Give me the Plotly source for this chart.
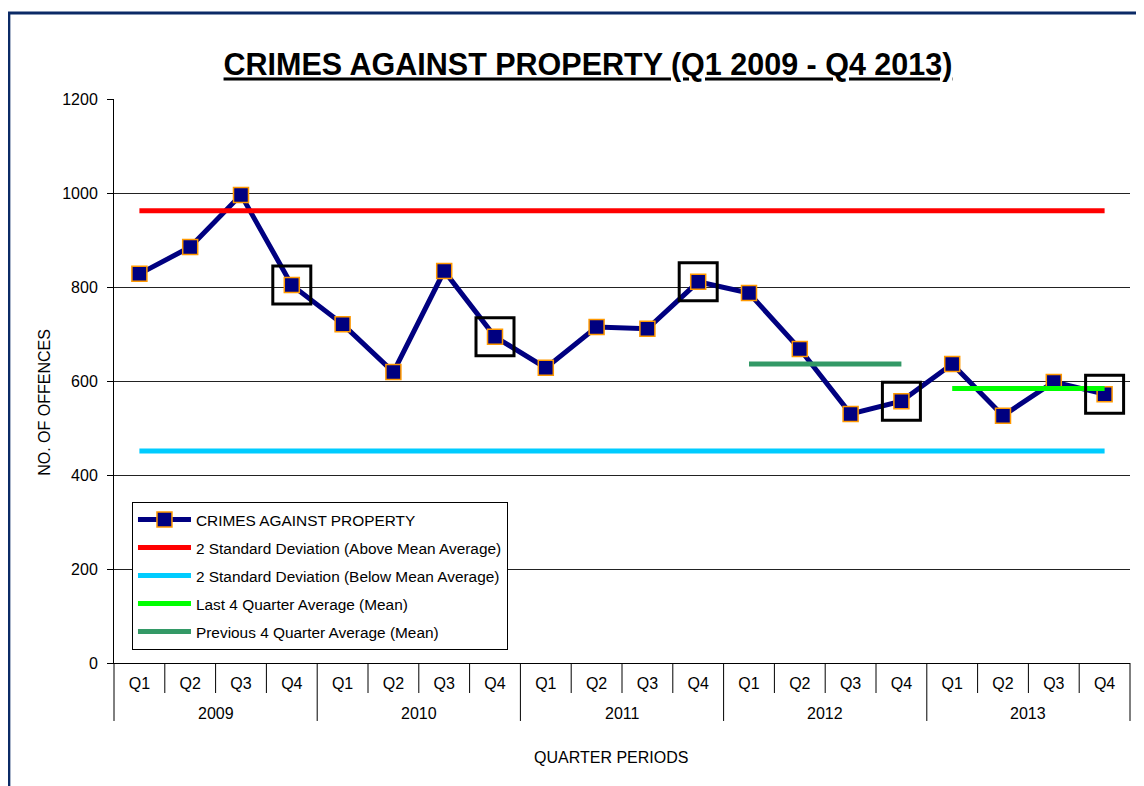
import plotly.graph_objects as go

# 분기별 재산범죄 건수 (Q1 2009 - Q4 2013)
years = ['2009', '2010', '2011', '2012', '2013']
quarters = ['Q1', 'Q2', 'Q3', 'Q4']

crimes = [828, 885, 996, 804,
          721, 619, 834, 694,
          628, 715, 711, 811,
          787, 668, 530, 557,
          636, 526, 598, 572]

upper_2sd = 962     # 2 표준편차 (평균 위)
lower_2sd = 451     # 2 표준편차 (평균 아래)
prev_4q_avg = 636   # 2012 평균
last_4q_avg = 584   # 2013 평균

# 카테고리: '2009 Q1' ... (축에는 Q1~Q4만 표시)
x_cat = [f'{y} {q}' for y in years for q in quarters]
x_qtr = [q for y in years for q in quarters]
n = len(x_cat)
nq = len(quarters)

FONT = 'Liberation Sans, Arial, sans-serif'

fig = go.Figure()

fig.add_trace(go.Scatter(
    x=x_cat, y=crimes,
    mode='lines+markers',
    name='CRIMES AGAINST PROPERTY',
    line=dict(color='#000080', width=5),
    marker=dict(symbol='square', size=15, color='#000080',
                line=dict(color='#FF9900', width=1.5)),
    legendgroup='a'
))

fig.add_trace(go.Scatter(
    x=x_cat, y=[upper_2sd] * n,
    mode='lines', name='2 Standard Deviation (Above Mean Average)',
    line=dict(color='#FF0000', width=5),
    legendgroup='b'
))

fig.add_trace(go.Scatter(
    x=x_cat, y=[lower_2sd] * n,
    mode='lines', name='2 Standard Deviation (Below Mean Average)',
    line=dict(color='#00CCFF', width=5),
    legendgroup='c'
))

# 마지막 4분기 (2013)
fig.add_trace(go.Scatter(
    x=[c for c in x_cat if c.startswith('2013')], y=[last_4q_avg] * nq,
    mode='lines', name='Last 4 Quarter Average (Mean)',
    line=dict(color='#00FF00', width=5),
    legendgroup='d'
))

# 이전 4분기 (2012)
fig.add_trace(go.Scatter(
    x=[c for c in x_cat if c.startswith('2012')], y=[prev_4q_avg] * nq,
    mode='lines', name='Previous 4 Quarter Average (Mean)',
    line=dict(color='#339966', width=5),
    legendgroup='e'
))

# Q4 강조 박스
q4_idx = [i for i, q in enumerate(x_qtr) if q == 'Q4']
fig.add_trace(go.Scatter(
    x=[x_cat[i] for i in q4_idx],
    y=[crimes[i] for i in q4_idx],
    mode='markers', showlegend=False, hoverinfo='skip',
    marker=dict(symbol='square-open', size=38, color='black',
                line=dict(color='black', width=3))
))

# 페이지 body 여백(8px) 보정
fig.update_layout(
    width=1136, height=778,
    margin=dict(l=106, r=14, t=91, b=123),
    plot_bgcolor='white', paper_bgcolor='white',
    font=dict(family=FONT, color='black', size=16),
    title=dict(
        text='<b><u>CRIMES AGAINST PROPERTY (Q1 2009 - Q4 2013)</u></b>',
        x=0.4665, xref='paper', xanchor='center',
        y=0.927, yref='container', yanchor='middle',
        font=dict(family=FONT, size=30.5, color='black')
    ),
    showlegend=True,
    legend=dict(
        x=0.0177, y=0.2855, xanchor='left', yanchor='top',
        bgcolor='white', bordercolor='black', borderwidth=1,
        font=dict(family=FONT, size=15.4, color='black'),
        traceorder='grouped', tracegroupgap=5,
        itemwidth=53
    ),
    hovermode='closest'
)

fig.update_xaxes(
    type='category',
    range=[-0.5, n - 0.5],
    tickvals=x_cat, ticktext=x_qtr,
    showgrid=False,
    showline=True, linecolor='black', linewidth=1,
    ticks='', ticklabelstandoff=6,
    tickfont=dict(family=FONT, size=16, color='black')
)

fig.update_yaxes(
    range=[0, 1200], dtick=200,
    showgrid=True, gridcolor='#222222', gridwidth=1,
    showline=True, linecolor='black', linewidth=1,
    ticks='outside', ticklen=6, tickcolor='black',
    ticklabelstandoff=6,
    tickfont=dict(family=FONT, size=16, color='black'),
    zeroline=False
)

# x축 구분선: 분기(짧게), 연도(길게)
for i in range(n + 1):
    is_year = (i % nq == 0)
    fig.add_shape(
        type='line', xref='paper', yref='paper',
        x0=i / n, x1=i / n, y0=0, y1=-0.1028 if is_year else -0.0532,
        line=dict(color='black', width=1)
    )

# 연도 라벨
for k, yr in enumerate(years):
    fig.add_annotation(
        text=yr, xref='x', yref='paper',
        x=k * nq + (nq - 1) / 2, y=-0.0887,
        xanchor='center', yanchor='middle', showarrow=False,
        font=dict(family=FONT, size=16, color='black')
    )

# 축 제목
fig.add_annotation(
    text='NO. OF OFFENCES', textangle=-90,
    xref='paper', yref='paper', x=-0.068, y=0.463,
    xanchor='center', yanchor='middle',
    showarrow=False, font=dict(family=FONT, size=16, color='black')
)
fig.add_annotation(
    text='QUARTER PERIODS',
    xref='paper', yref='paper', x=0.4892, y=-0.1684,
    xanchor='center', yanchor='middle',
    showarrow=False, font=dict(family=FONT, size=16, color='black')
)

# 바깥 테두리
fig.add_shape(
    type='rect', xref='paper', yref='paper',
    x0=-0.1035, x1=1.5, y0=-0.5, y1=1.1525,
    line=dict(color='#0b2a66', width=3), layer='below'
)

fig.write_html('out.html')
